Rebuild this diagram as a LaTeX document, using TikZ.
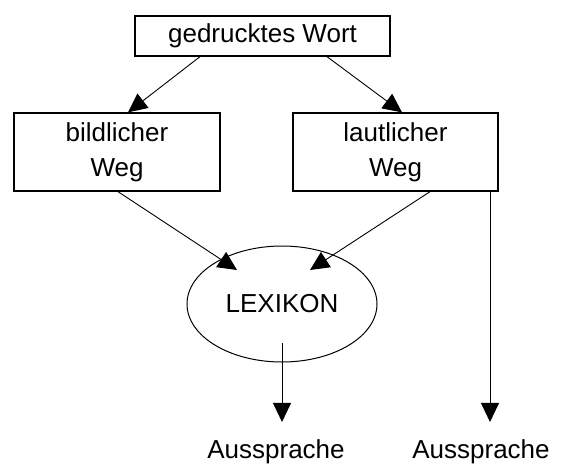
\documentclass[tikz,border=0pt]{standalone}
\usepackage{fontspec}
\setmainfont{Liberation Sans}
\usetikzlibrary{arrows.meta,shapes.geometric}
\begin{document}
\begin{tikzpicture}[x=1pt,y=-1pt,
  box/.style={draw,line width=1.3pt,inner sep=0pt,align=center,font=\fontsize{26}{35}\selectfont},
  conn/.style={line width=0.9pt,-{Triangle[width=18pt,length=19pt]}},
  txt/.style={inner sep=0pt,font=\fontsize{26}{35}\selectfont}]
\useasboundingbox (0,0) rectangle (563,464);
\node[box,minimum width=255pt,minimum height=40pt] (top) at (262.5,36) {gedrucktes Wort};
\node[box,minimum width=206pt,minimum height=78pt] (left) at (117,152) {bildlicher\\Weg};
\node[box,minimum width=205pt,minimum height=78pt] (right) at (395.5,152) {lautlicher\\Weg};
\node[draw,ellipse,line width=1pt,inner sep=0pt,minimum width=190pt,minimum height=116pt,txt] (lex) at (282,304) {LEXIKON};
\node[txt,anchor=base] (a1) at (276,458) {Aussprache};
\node[txt,anchor=base] (a2) at (481,458) {Aussprache};
\draw[conn] ([xshift=-62.5pt]top.south) -- ([xshift=11pt]left.north);
\draw[conn] ([xshift=64.5pt]top.south) -- ([xshift=6.5pt]right.north);
\draw[conn] ([xshift=1pt]left.south) -- ([xshift=-45pt,yshift=34pt]lex.center);
\draw[conn] ([xshift=34.5pt]right.south) -- ([xshift=28pt,yshift=34pt]lex.center);
\draw[conn] ([yshift=-39pt]lex.center) -- ([xshift=6pt,yshift=17pt]a1.north);
\draw[conn] ([xshift=94.5pt]right.south) -- ([xshift=9pt,yshift=17pt]a2.north);
\end{tikzpicture}
\end{document}
